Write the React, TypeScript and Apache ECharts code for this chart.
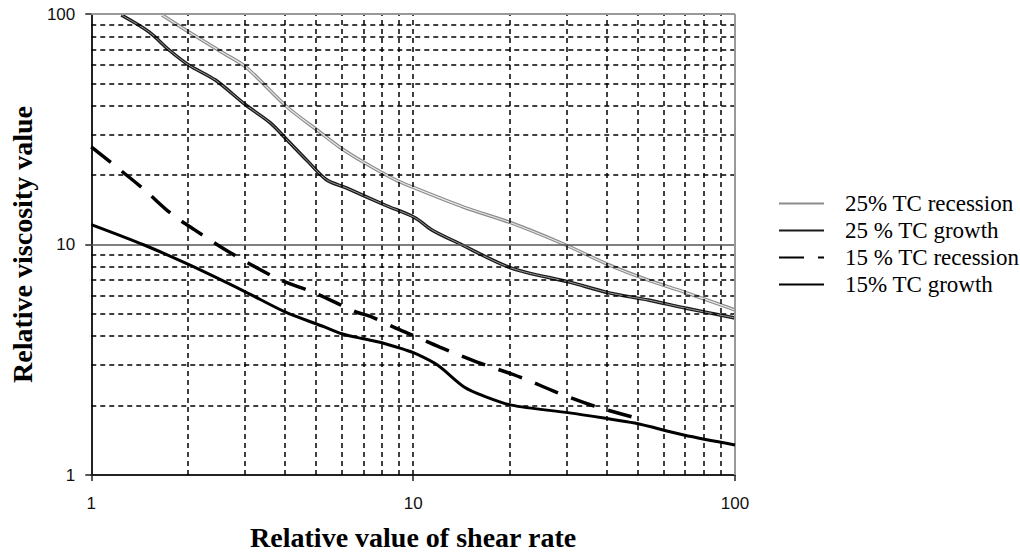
import React, { useEffect, useRef } from "react";
import * as echarts from "echarts";

// Data (log-log axes)
const rec25X = [1.66, 2.01, 2.57, 3.02, 4.06, 5.12, 5.9, 7.0, 8.8, 10.1, 14.4, 20.2, 29.8, 40.6, 53.8, 70, 100];
const rec25Y = [99, 83.5, 67.7, 58.9, 39.5, 30.8, 26.5, 22.8, 19.1, 17.6, 14.5, 12.4, 9.95, 8.15, 7.0, 6.2, 5.2];

const gro25X = [1.24, 1.515, 1.745, 2.01, 2.43, 3.02, 3.6, 4.06, 4.7, 5.38, 6.2, 8.2, 10.1, 11.4, 13.7, 20.2, 30.6, 40.6, 53.8, 70, 100];
const gro25Y = [99, 83.5, 69.8, 60, 51.7, 40.3, 33.7, 28.4, 23.0, 19.1, 17.6, 14.8, 13.1, 11.6, 10.2, 7.9, 6.87, 6.17, 5.74, 5.3, 4.8];

const rec15X = [1.0, 1.44, 1.76, 2.09, 2.68, 3.81, 4.95, 6.65, 7.4, 8.7, 9.6, 12.1, 15.8, 21.5, 27.8, 36.6, 47.7];
const rec15Y = [26.5, 17.6, 13.7, 11.6, 9.28, 7.09, 6.16, 5.1, 4.86, 4.38, 4.13, 3.59, 3.09, 2.66, 2.29, 1.99, 1.79];

const gro15X = [1.0, 1.46, 2.02, 3.02, 4.0, 5.3, 6.0, 7.0, 8.0, 9.45, 10.1, 11.9, 14.4, 16.6, 20.2, 30.6, 38.7, 48.8, 69.3, 100];
const gro15Y = [12.2, 9.95, 8.15, 6.22, 5.1, 4.39, 4.1, 3.9, 3.75, 3.49, 3.38, 3.0, 2.41, 2.2, 2.01, 1.86, 1.77, 1.68, 1.49, 1.35];

const seriesNames = ["25% TC recession", "25 % TC growth", "15 % TC recession", "15% TC growth"];
const minorValues = [2, 3, 4, 5, 6, 7, 8, 9, 20, 30, 40, 50, 60, 70, 80, 90];
const axisMin = 1;
const axisMax = 100;
const majorMid = 10;

const zip = (xs: number[], ys: number[]) => xs.map((x, i) => [x, ys[i]]);

export default function App() {
  const ref = useRef<HTMLDivElement>(null);
  useEffect(() => {
    if (!ref.current) return;
    const chart = echarts.init(ref.current, null, { renderer: "svg" });
    const dashed = { type: [5, 4] as any, color: "#000", width: 1.5 };
    const gridLines: any[] = [];
    minorValues.forEach((v) => {
      gridLines.push({ xAxis: v, lineStyle: dashed });
      gridLines.push({ yAxis: v, lineStyle: dashed });
    });
    gridLines.push({ xAxis: majorMid, lineStyle: dashed });
    gridLines.push({ yAxis: majorMid, lineStyle: { type: "solid", color: "#555", width: 1.5 } });
    gridLines.push({ yAxis: axisMax, lineStyle: { type: "solid", color: "#999", width: 2 } });
    gridLines.push({ xAxis: axisMax, lineStyle: { type: "solid", color: "#999", width: 2 } });

    const serif = "'Liberation Serif', 'Times New Roman', serif";
    const sans = "'Liberation Sans', Arial, sans-serif";
    const common = { type: "line", symbol: "none", smooth: 0.3, animation: false } as any;

    chart.setOption({
      animation: false,
      backgroundColor: "#fff",
      grid: { left: 81, right: 285, top: 14, bottom: 81 },
      legend: {
        data: seriesNames,
        orient: "vertical",
        left: 773,
        top: 187,
        itemWidth: 45,
        itemHeight: 2,
        itemGap: 4,
        selectedMode: false,
        itemStyle: { opacity: 0 },
        textStyle: { fontFamily: serif, fontSize: 23, color: "#000", lineHeight: 22, padding: [0, 0, 0, 16] },
      },
      xAxis: {
        type: "log",
        logBase: 10,
        min: axisMin,
        max: axisMax,
        name: "Relative value of shear rate",
        nameLocation: "middle",
        nameGap: 48,
        nameTextStyle: { fontFamily: serif, fontWeight: "bold", fontSize: 28, color: "#000" },
        axisLine: { lineStyle: { color: "#222", width: 2 } },
        axisTick: { show: true, inside: false, length: 6, lineStyle: { color: "#222", width: 1.5 } },
        axisLabel: { fontFamily: sans, fontSize: 17, color: "#111", margin: 20 },
        splitLine: { show: false },
        minorTick: { show: false },
      },
      yAxis: {
        type: "log",
        logBase: 10,
        min: axisMin,
        max: axisMax,
        name: "Relative viscosity value",
        nameLocation: "middle",
        nameGap: 45,
        nameTextStyle: { fontFamily: serif, fontWeight: "bold", fontSize: 28, color: "#000" },
        axisLine: { lineStyle: { color: "#222", width: 2 } },
        axisTick: { show: true, inside: false, length: 6, lineStyle: { color: "#222", width: 1.5 } },
        axisLabel: { fontFamily: sans, fontSize: 17, color: "#111", margin: 16 },
        splitLine: { show: false },
      },
      series: [
        {
          type: "line",
          name: "gridlines",
          data: [[axisMin, axisMin]],
          symbol: "none",
          lineStyle: { opacity: 0 },
          silent: true,
          z: 1,
          markLine: { silent: true, symbol: ["none", "none"], label: { show: false }, animation: false, data: gridLines },
        },
        { ...common, name: seriesNames[0], data: zip(rec25X, rec25Y), z: 3, lineStyle: { color: "#8c8c8c", width: 3.5 }, itemStyle: { color: "#8c8c8c" } },
        { ...common, name: "rec25inner", data: zip(rec25X, rec25Y), z: 4, lineStyle: { color: "#e8e8e8", width: 1.2 } },
        { ...common, name: seriesNames[1], data: zip(gro25X, gro25Y), z: 3, lineStyle: { color: "#1a1a1a", width: 3.5 }, itemStyle: { color: "#1a1a1a" } },
        { ...common, name: "gro25inner", data: zip(gro25X, gro25Y), z: 4, lineStyle: { color: "#9a9a9a", width: 1 } },
        { ...common, name: seriesNames[2], data: zip(rec15X, rec15Y), z: 5, lineStyle: { color: "#000", width: 3.5, type: [25, 14] }, itemStyle: { color: "#000" } },
        { ...common, name: seriesNames[3], data: zip(gro15X, gro15Y), z: 5, lineStyle: { color: "#000", width: 3 }, itemStyle: { color: "#000" } },
      ],
    });
    return () => chart.dispose();
  }, []);
  return <div ref={ref} style={{ position: "fixed", left: 0, top: 0, width: 1020, height: 556, background: "#fff" }} />;
}
